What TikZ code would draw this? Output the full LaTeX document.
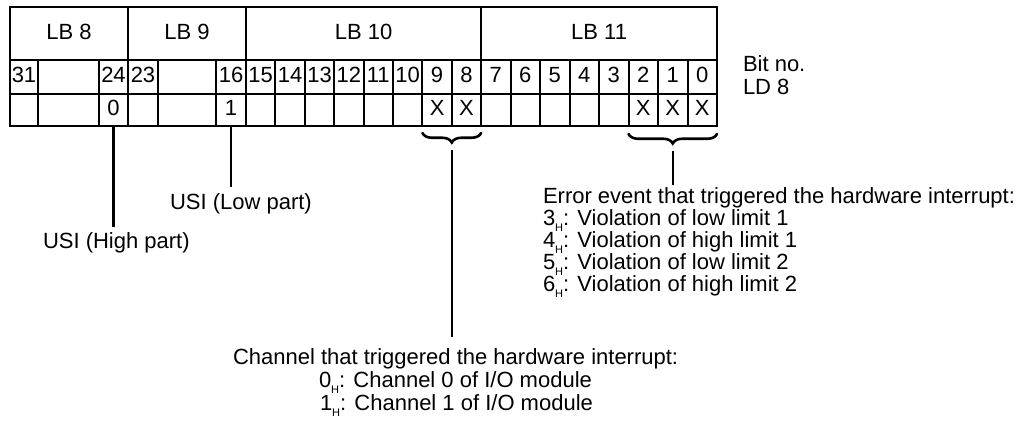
\documentclass[tikz,border=0pt]{standalone}
\usepackage{fontspec}
\setmainfont{Liberation Sans}
\usetikzlibrary{decorations.pathreplacing,calc}
% hexadecimal marker written as a small lowered H
\newcommand{\hexsub}{\raisebox{-6pt}{\fontsize{11}{11}\selectfont H}}

\begin{document}
\begin{tikzpicture}[x=1pt,y=-1pt,
  cellbox/.style={draw=black, line width=2pt, inner sep=0pt, outer sep=0pt},
  txt/.style={inner sep=0pt, outer sep=0pt, anchor=base, font=\fontsize{22}{25}\selectfont},
  lbl/.style={inner sep=0pt, outer sep=0pt, anchor=base west, font=\fontsize{22}{25}\selectfont},
  lead/.style={line width=2.3pt},
  brc/.style={decorate, decoration={brace, mirror, amplitude=9.5pt, aspect=0.5},
    line width=2.6pt, line cap=round}]
\useasboundingbox (0,0) rectangle (1024,425);

% byte header row
\foreach \l/\r/\n/\id in {10/128/LB 8/lb8, 128/246/LB 9/lb9, 246/481.2/LB 10/lb10, 481.2/717/LB 11/lb11}{
  \pgfmathsetmacro{\w}{\r-\l}
  \pgfmathsetmacro{\c}{(\l+\r)/2}
  \node[cellbox, minimum width=\w pt, minimum height=53pt] (\id) at (\c,33.5) {};
  \node[txt] (t\id) at (\c,40) {\n};
}

% bit number row and value row
\foreach \l/\r/\n/\v/\id in {
  10/38/31/{}/31, 38/99/{}/{}/g1, 99/128/24/0/24,
  128/158/23/{}/23, 158/216/{}/{}/g2, 216/246/16/1/16,
  246/275.4/15/{}/15, 275.4/304.8/14/{}/14, 304.8/334.2/13/{}/13, 334.2/363.6/12/{}/12,
  363.6/393/11/{}/11, 393/422.4/10/{}/10, 422.4/451.8/9/X/9, 451.8/481.2/8/X/8,
  481.2/510.5/7/{}/7, 510.5/540/6/{}/6, 540/569.5/5/{}/5, 569.5/599/4/{}/4,
  599/628.5/3/{}/3, 628.5/658/2/X/2, 658/687.5/1/X/1, 687.5/717/0/X/0}{
  \pgfmathsetmacro{\w}{\r-\l}
  \pgfmathsetmacro{\c}{(\l+\r)/2}
  \node[cellbox, minimum width=\w pt, minimum height=34pt] (bit\id) at (\c,77) {};
  \node[cellbox, minimum width=\w pt, minimum height=32pt] (val\id) at (\c,110) {};
  \node[txt] (bn\id) at (\c,83) {\n};
  \node[txt] (bv\id) at (\c,115) {\v};
}

% row captions
\node[lbl] (bitno) at (743,72) {Bit no.};
\node[lbl] (ld8) at (743,95) {LD 8};

% USI labels
\node[lbl] (low) at (170,209) {USI (Low part)};
\node[lbl] (high) at (43,248) {USI (High part)};
\draw[lead, shorten >=5pt] (val24.south) -- (val24.south |- high.north);
\draw[lead, shorten >=6pt] (val16.south) -- (val16.south |- low.north);

% channel field
\draw[brc] ([yshift=-7pt]val9.south west) -- ([yshift=-7pt]val8.south east);
\coordinate (chtip) at ($(val9.south east)+(0,16)$);
\node[lbl] (ch0) at (233,364) {Channel that triggered the hardware interrupt:};
\node[lbl] (ch1) at (319,387) {0\hexsub: Channel 0 of I/O module};
\node[lbl] (ch2) at (320,410) {1\hexsub: Channel 1 of I/O module};
\draw[lead, shorten <=8pt, shorten >=11pt] (chtip) -- (chtip |- ch0.north);

% error event field
\draw[brc] ([yshift=-8pt]val2.south west) -- ([yshift=-8pt]val0.south east);
\coordinate (ertip) at ($(val2.south west)!0.5!(val0.south east)+(0,17)$);
\node[lbl] (er0) at (543,203) {Error event that triggered the hardware interrupt:};
\node[lbl] (er1) at (543,225) {3\hexsub: Violation of low limit 1};
\node[lbl] (er2) at (543,247) {4\hexsub: Violation of high limit 1};
\node[lbl] (er3) at (543,269) {5\hexsub: Violation of low limit 2};
\node[lbl] (er4) at (543,291) {6\hexsub: Violation of high limit 2};
\draw[lead, shorten <=8pt, shorten >=2pt] (ertip) -- (ertip |- er0.north);
\end{tikzpicture}
\end{document}
